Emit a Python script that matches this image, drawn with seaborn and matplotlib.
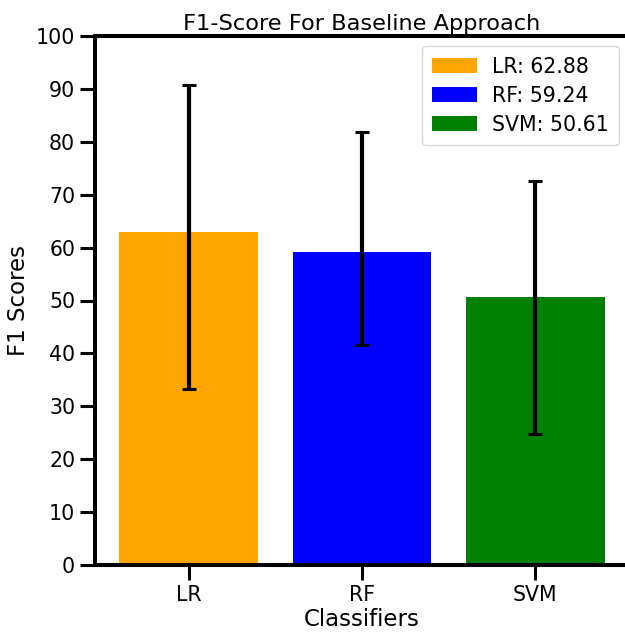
import matplotlib
matplotlib.use("Agg")
import matplotlib.pyplot as plt
import seaborn as sns
import numpy as np
import pandas as pd

classifiers = ["LR", "RF", "SVM"]
scores = [62.88, 59.24, 50.61]
err_low = [29.6, 17.6, 25.8]
err_high = [27.9, 22.6, 22.0]
colors = ["orange", "blue", "green"]
yticks = [0, 10, 20, 30, 40, 50, 60, 70, 80, 90, 100]

sns.set_style("ticks")
plt.rcParams["font.family"] = ["DejaVu Sans"]
for k in ["text.color", "axes.labelcolor", "xtick.color", "ytick.color", "axes.edgecolor"]:
    plt.rcParams[k] = "black"

fig = plt.figure(figsize=(6.25, 6.32), dpi=100)
ax = fig.add_axes([95 / 625, 67 / 632, 534 / 625, 529 / 632])

df = pd.DataFrame({"Classifier": classifiers, "Score": scores})
sns.barplot(data=df, x="Classifier", y="Score", hue="Classifier",
            palette=colors, saturation=1, width=0.8, legend=False, ax=ax,
            linewidth=0)

ax.errorbar(np.arange(len(classifiers)), scores, yerr=[err_low, err_high],
            fmt="none", ecolor="black", elinewidth=3, capsize=4.7, capthick=2.2)

for p, c, s in zip(ax.patches, classifiers, scores):
    p.set_label(f"{c}: {s:.2f}")
ax.legend(handles=list(ax.patches)[:3], loc="upper right", fontsize=14.8,
          handlelength=2.2, handleheight=0.75, borderpad=0.5, labelspacing=0.45,
          handletextpad=0.7)

ax.set_xlim(-0.54, 2.54)
ax.set_ylim(0, 100)
ax.set_yticks(yticks)
ax.set_xlabel("Classifiers", fontsize=16.5, labelpad=2)
ax.set_ylabel("F1 Scores", fontsize=16.5, labelpad=4)
ax.set_title("F1-Score For Baseline Approach", fontsize=16.2, pad=4)
ax.tick_params(axis="both", labelsize=14.8, length=10.8, width=2.2, color="black",
               labelcolor="black")
for sp in ax.spines.values():
    sp.set_linewidth(2.9)
    sp.set_color("black")

fig.savefig("out.png", dpi=100)
